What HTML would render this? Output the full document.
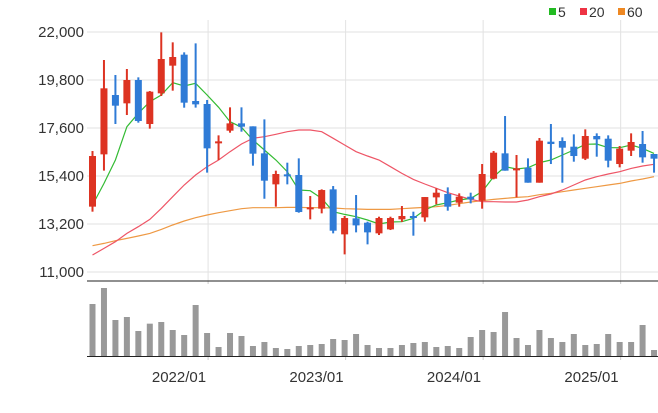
<!DOCTYPE html>
<html><head><meta charset="utf-8"><style>
body{margin:0;background:#fff;}
svg text{font-family:"Liberation Sans",sans-serif;}
</style></head><body>
<svg id="chart" width="658" height="408" xmlns="http://www.w3.org/2000/svg">
<g>
<rect x="549" y="8" width="7" height="7" fill="#22bb22"/>
<text x="558" y="17" font-size="14" fill="#333">5</text>
<rect x="580" y="8" width="7" height="7" fill="#ee3344"/>
<text x="589" y="17" font-size="14" fill="#333">20</text>
<rect x="618" y="8" width="7" height="7" fill="#ee8822"/>
<text x="627" y="17" font-size="14" fill="#333">60</text>
</g>
<g id="grid"></g><g id="ma"></g><g id="candles"></g><g id="vol"></g><g id="axes"></g>
</svg>
<script>
const months=50;
const yTicks=[11000,13200,15400,17600,19800,22000];
const yTickLabels=["11,000","13,200","15,400","17,600","19,800","22,000"];
const xTickIdx=[10,22,34,46];
const xTickLabels=["2022/01","2023/01","2024/01","2025/01"];
const openVals=[13995,16392,19112,18730,19800,17783,19189,20457,20961,18837,18700,16897,17477,17813,17676,16438,15017,15475,15445,13902,13902,14788,12725,13459,13260,12771,12954,13413,13566,13505,14421,14574,14177,14452,14268,15277,16438,15705,15781,15093,16973,17003,16744,16194,17233,17110,15949,16560,16866,16408];
const closeVals=[16316,19418,18623,19800,17920,19265,20762,20854,18761,18684,16667,16988,17813,17660,16423,15185,15491,15430,13749,13963,14757,12893,13474,13137,12817,13474,13474,13566,13505,14436,14635,13993,14452,14330,15491,16469,15644,15750,15093,17019,16866,16698,16316,17233,17080,16102,16652,16958,16255,16194];
const highVals=[16545,20716,20029,20304,19922,19295,21985,21526,21068,21480,18883,17263,18547,18547,17676,17997,15644,16010,16209,14482,14788,14940,13566,14528,13306,13535,13535,14024,13765,14436,14833,14879,14604,14635,15949,16545,18149,16362,16209,17141,17783,17171,17309,17538,17355,17263,16774,17355,17462,16408];
const lowVals=[13765,15644,17783,18195,17844,17569,19066,19311,18531,18531,15552,16132,17385,17431,15873,14360,13993,15017,13718,13413,13688,12771,11808,12817,12267,12695,12924,13291,12664,13306,14100,13810,13993,14146,13902,15247,15644,14421,15093,15093,15949,15093,16056,16132,16285,15797,15797,16316,16010,15553];
const ma5=[14070,15063,16132,17660,18272,18806,19112,19677,19525,19647,19112,18547,17890,17630,17049,16591,16132,15598,14757,14727,14375,13764,13642,13535,13382,13199,13290,13306,13459,13840,14070,14177,14299,14375,14681,15369,15827,15720,15781,16010,16132,16362,16591,16851,16866,16698,16698,16820,16667,16438];
const ma20=[11778,12083,12389,12771,13076,13413,13917,14452,14986,15445,15827,16132,16514,16866,17126,17202,17309,17431,17508,17508,17431,17126,16820,16514,16316,16132,15827,15521,15246,15032,14834,14635,14482,14329,14222,14222,14207,14207,14299,14452,14574,14757,14986,15216,15368,15490,15597,15750,15857,15934];
const ma60=[12205,12312,12435,12542,12649,12771,12954,13153,13336,13489,13611,13718,13810,13902,13947,13947,13947,13963,13963,13947,13947,13932,13902,13886,13871,13871,13871,13902,13932,13963,13993,14054,14131,14207,14268,14329,14375,14421,14452,14543,14604,14681,14757,14834,14910,14986,15063,15170,15262,15369];
const volume=[156,204,108,117,75,97,102,78,63,153,69,27,69,60,30,42,24,21,30,33,36,51,48,66,33,24,24,33,39,42,27,30,24,57,78,72,132,54,33,78,54,42,66,33,36,66,42,42,93,18];

const NS="http://www.w3.org/2000/svg";
const X=i=>92.5+i*11.46;
const Y=p=>32+(22000-p)/2200*48;
const V=v=>356-v/3;
function mk(tag,attrs,parent){const e=document.createElementNS(NS,tag);for(const k in attrs)e.setAttribute(k,attrs[k]);document.getElementById(parent).appendChild(e);return e;}

yTicks.forEach((t,j)=>{
  const l=mk('line',{x1:87,x2:658,y1:Y(t),y2:Y(t),stroke:'#e2e2e2','stroke-width':1},'grid');
  
  
  const tx=mk('text',{x:84,y:Y(t)+5,'text-anchor':'end','font-size':15,fill:'#333'},'axes');
  tx.textContent=yTickLabels[j];
  
  
});
xTickIdx.forEach((ix,j)=>{
  const l=mk('line',{x1:X(ix)+1,x2:X(ix)+1,y1:20,y2:281,stroke:'#e2e2e2','stroke-width':1},'grid');
  
  
  const t1=mk('line',{x1:X(ix)+1,x2:X(ix)+1,y1:281,y2:284,stroke:'#ccc'},'axes');
  
  
  const t2=mk('line',{x1:X(ix)+1,x2:X(ix)+1,y1:356,y2:360,stroke:'#ccc'},'axes');
  
  
  const tx=mk('text',{x:X(ix)-1,y:382,'text-anchor':'end','font-size':15,fill:'#333'},'axes');
  tx.textContent=xTickLabels[j];
  
  
});
const topLine=mk('line',{x1:87,x2:658,y1:281,y2:281,stroke:'#222','stroke-width':1},'axes');


const baseLine=mk('line',{x1:87,x2:658,y1:356.5,y2:356.5,stroke:'#222','stroke-width':1},'axes');



function drawLine(arr,color,name){
  const d=arr.map((v,i)=>(i?'L':'M')+X(i).toFixed(1)+','+Y(v).toFixed(1)).join(' ');
  const p=mk('path',{d:d,fill:'none',stroke:color,'stroke-width':1.2},'ma');
  
  
}
drawLine(ma60,'#ee9944','ma60-line');
drawLine(ma20,'#ee5566','ma20-line');
drawLine(ma5,'#33bb33','ma5-line');

for(let i=0;i<months;i++){
  const up=closeVals[i]>=openVals[i];
  const c=up?'#dd3322':'#2f7bd6';
  const w=mk('line',{x1:X(i),x2:X(i),y1:Y(highVals[i]),y2:Y(lowVals[i]),stroke:c,'stroke-width':2},'candles');
  
  
  const yt=Y(Math.max(openVals[i],closeVals[i])),yb=Y(Math.min(openVals[i],closeVals[i]));
  const b=mk('rect',{x:X(i)-3.5,y:yt,width:7,height:Math.max(yb-yt,2),fill:c},'candles');
  
  
  const vb=mk('rect',{x:X(i)-3,y:V(volume[i]),width:6,height:356-V(volume[i]),fill:'#999'},'vol');
  
  
}
</script>
</body></html>
